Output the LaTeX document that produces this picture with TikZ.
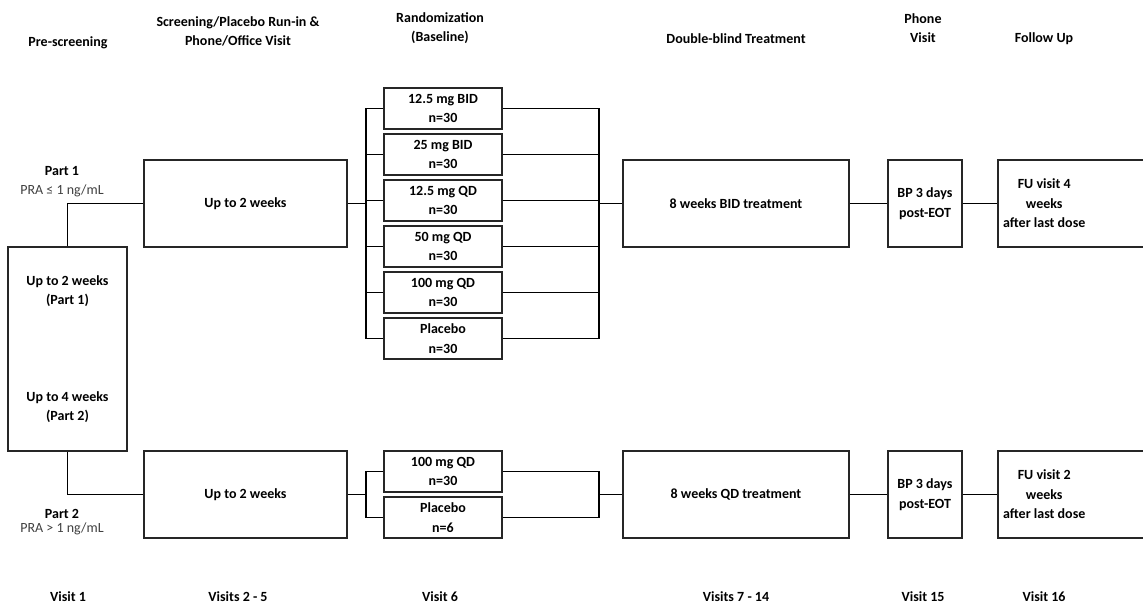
\documentclass[tikz,border=0pt]{standalone}
\usepackage{fontspec}
\setmainfont{Carlito}
\usepackage{tikz}
\usetikzlibrary{calc}

\begin{document}
\begin{tikzpicture}[x=1pt,y=-1pt,line width=1.5pt,node distance=46pt,
        box/.style={rectangle,draw=black!85,inner sep=2pt,align=center},
        arm/.style={box,minimum width=118pt,minimum height=41pt},
        stage/.style={box,minimum width=203pt,minimum height=87pt},
        head/.style={align=center},
        note/.style={font=\fontsize{14}{19.5}\selectfont,text=black!75},
        every node/.style={font=\bfseries\fontsize{14}{19.5}\selectfont}]
        \useasboundingbox (0,0) rectangle (1143,605);
        % column headings
        \node[head] (h1) at (68,43)    {Pre-screening};
        \node[head] (h2) at (238,31.5) {Screening/Placebo Run-in \&\\Phone/Office Visit};
        \node[head] (h3) at (440,28)   {Randomization\\(Baseline)};
        \node[head] (h4) at (736,39)   {Double-blind Treatment};
        \node[head] (h5) at (923,28)   {Phone\\Visit};
        \node[head] (h6) at (1044,39)  {Follow Up};
        % pre-screening
        \node[box,minimum width=119pt,minimum height=204pt] (pre) at (67.5,349)
          {Up to 2 weeks\\(Part 1)\\[77pt]Up to 4 weeks\\(Part 2)};
        \node (p1)  at (62,171) {Part 1};
        \node[note] (pra1) [below of=p1,node distance=20pt] {PRA ≤ 1 ng/mL};
        \node (p2)  at (62,514) {Part 2};
        \node[note] (pra2) [below of=p2,node distance=15pt] {PRA > 1 ng/mL};
        % part 1 row
        \node[stage] (scr1) at (245.5,203.5) {Up to 2 weeks};
        \node[arm]  (r1) at (443,108.5) {12.5 mg BID\\n=30};
        \node[arm]  (r2) [below of=r1] {25 mg BID\\n=30};
        \node[arm]  (r3) [below of=r2] {12.5 mg QD\\n=30};
        \node[arm]  (r4) [below of=r3] {50 mg QD\\n=30};
        \node[arm]  (r5) [below of=r4] {100 mg QD\\n=30};
        \node[arm]  (r6) [below of=r5] {Placebo\\n=30};
        \node[stage,minimum width=226pt] (t1) at (736,203.5) {8 weeks BID treatment};
        \node[box,minimum width=74pt,minimum height=87pt] (ph1) at (925,203.5) {BP 3 days\\post-EOT};
        \node[box,minimum width=172pt,minimum height=87pt] (fu1) at (1084,203.5) {};
        \node[head] (fu1t) at ($(fu1.west)+(47,0)$) {FU visit 4\\weeks\\after last dose};
        % part 2 row
        \node[stage] (scr2) at (245.5,494.5) {Up to 2 weeks};
        \node[arm]  (r7) at (443,471.5) {100 mg QD\\n=30};
        \node[arm]  (r8) [below of=r7] {Placebo\\n=6};
        \node[stage,minimum width=226pt] (t2) at (736,494.5) {8 weeks QD treatment};
        \node[box,minimum width=74pt,minimum height=87pt] (ph2) at (925,494.5) {BP 3 days\\post-EOT};
        \node[box,minimum width=172pt,minimum height=87pt] (fu2) at (1084,494.5) {};
        \node[head] (fu2t) at ($(fu2.west)+(47,0)$) {FU visit 2\\weeks\\after last dose};
        % visits
        \node (v1) at (68,597)  {Visit 1};
        \node (v2) at (238,597) {Visits 2 - 5};
        \node (v3) at (440,597) {Visit 6};
        \node (v4) at (736,597) {Visits 7 - 14};
        \node (v5) at (923,597) {Visit 15};
        \node (v6) at (1044,597) {Visit 16};
        % bracket points
        \coordinate (bl1) at (366,203.5);
        \coordinate (br1) at (599,203.5);
        \coordinate (bl2) at (366,494.5);
        \coordinate (br2) at (599,494.5);
        \draw (pre.north) |- (scr1.west);
        \draw (pre.south) |- (scr2.west);
        \draw (scr1.east) -- (bl1);
        \draw (r1.west) -| (bl1) |- (r6.west);
        \draw (r2.west) -- (r2.west -| bl1) (r3.west) -- (r3.west -| bl1)
              (r4.west) -- (r4.west -| bl1) (r5.west) -- (r5.west -| bl1);
        \draw (r1.east) -| (br1) |- (r6.east);
        \draw (r2.east) -- (r2.east -| br1) (r3.east) -- (r3.east -| br1)
              (r4.east) -- (r4.east -| br1) (r5.east) -- (r5.east -| br1);
        \draw (br1) -- (t1.west);
        \draw (scr2.east) -- (bl2);
        \draw (r7.west) -| (bl2) |- (r8.west);
        \draw (r7.east) -| (br2) |- (r8.east);
        \draw (br2) -- (t2.west);
        \path[draw]
          (t1) edge (ph1)
          (ph1) edge (fu1)
          (t2) edge (ph2)
          (ph2) edge (fu2)
          ;
      \end{tikzpicture}
\end{document}
